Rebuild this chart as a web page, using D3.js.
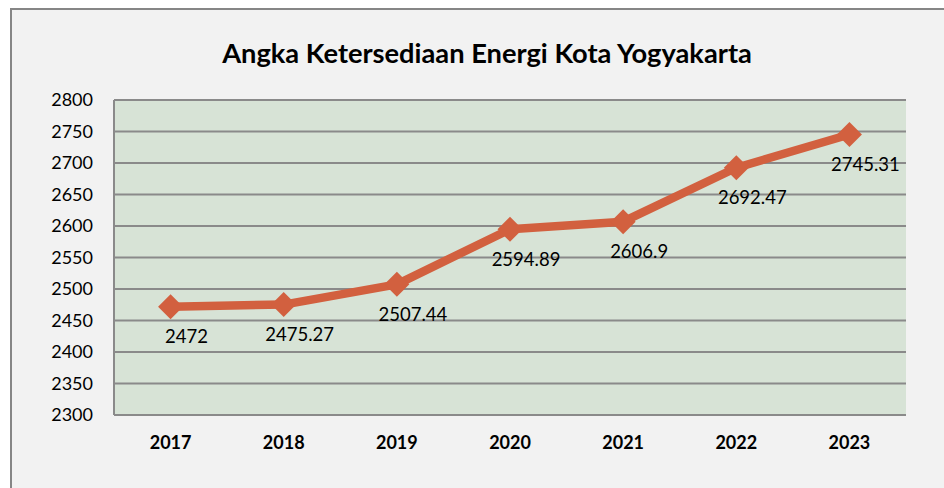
<!DOCTYPE html>
<html>
<head>
<meta charset="utf-8">
<script src="https://cdn.jsdelivr.net/npm/d3@7"></script>
<style>
  html, body { margin: 0; padding: 0; background: #ffffff; }
  svg { display: block; }
  text { font-family: Lato, "Open Sans", sans-serif; }
</style>
</head>
<body>
<svg id="chart" width="944" height="488"></svg>
<script>
const title = "Angka Ketersediaan Energi Kota Yogyakarta";
const years = ["2017", "2018", "2019", "2020", "2021", "2022", "2023"];
const values = [2472, 2475.27, 2507.44, 2594.89, 2606.9, 2692.47, 2745.31];
const valueLabels = ["2472", "2475.27", "2507.44", "2594.89", "2606.9", "2692.47", "2745.31"];
const yTicks = [2300, 2350, 2400, 2450, 2500, 2550, 2600, 2650, 2700, 2750, 2800];

const svg = d3.select("#chart");
const W = 944, H = 488;
const plot = { left: 114, right: 906, top: 100, bottom: 415 };

// outer chart area
svg.append("rect")
  .attr("x", 11).attr("y", 9)
  .attr("width", W + 20).attr("height", H + 20)
  .attr("fill", "#f2f2f2")
  .attr("stroke", "#868686").attr("stroke-width", 2);

// title
const t = svg.append("text")
  .attr("x", 487).attr("y", 63)
  .attr("text-anchor", "middle")
  .attr("font-weight", "bold")
  .attr("font-size", 22)
  .attr("fill", "#000")
  .text(title);
const tw = t.node().getComputedTextLength();
t.attr("font-size", 22 * 530 / tw);

const x = d3.scaleBand().domain(years).range([plot.left, plot.right]).padding(0);
const y = d3.scaleLinear().domain([2300, 2800]).range([plot.bottom, plot.top]);

// plot area background
svg.append("rect")
  .attr("x", plot.left).attr("y", plot.top)
  .attr("width", plot.right - plot.left).attr("height", plot.bottom - plot.top)
  .attr("fill", "#d7e3d6");

// gridlines
svg.append("g").selectAll("line").data(yTicks).join("line")
  .attr("x1", plot.left).attr("x2", plot.right)
  .attr("y1", d => y(d)).attr("y2", d => y(d))
  .attr("stroke", "#8a8a8a").attr("stroke-width", 2);

// left axis line
svg.append("line")
  .attr("x1", plot.left).attr("x2", plot.left)
  .attr("y1", plot.top).attr("y2", plot.bottom)
  .attr("stroke", "#8a8a8a").attr("stroke-width", 2);

// y axis labels
const yAxis = d3.axisLeft(y).tickValues(yTicks).tickSize(0).tickPadding(21).tickFormat(d3.format("d"));
const gy = svg.append("g").attr("transform", `translate(${plot.left},0)`).call(yAxis);
gy.select(".domain").remove();
gy.selectAll("text").attr("font-size", 18).attr("fill", "#000")
  .attr("font-family", "Lato, sans-serif");

// x axis labels
const xAxis = d3.axisBottom(x).tickSize(0).tickPadding(21);
const gx = svg.append("g").attr("transform", `translate(0,${plot.bottom})`).call(xAxis);
gx.select(".domain").remove();
gx.selectAll("text").attr("font-size", 18).attr("font-weight", "bold").attr("fill", "#000")
  .attr("font-family", "Lato, sans-serif");

const cx = d => x(d) + x.bandwidth() / 2;
const data = years.map((yr, i) => ({ yr, v: values[i], label: valueLabels[i] }));

// line
svg.append("path").datum(data)
  .attr("fill", "none")
  .attr("stroke", "#d2603f")
  .attr("stroke-width", 8.5)
  .attr("stroke-linejoin", "round")
  .attr("d", d3.line().x(d => cx(d.yr)).y(d => y(d.v)));

// diamond markers
svg.append("g").selectAll("path").data(data).join("path")
  .attr("transform", d => `translate(${cx(d.yr)},${y(d.v)})`)
  .attr("d", "M0,-12.5L12.5,0L0,12.5L-12.5,0Z")
  .attr("fill", "#d2603f");

// data labels
svg.append("g").selectAll("text").data(data).join("text")
  .attr("x", d => cx(d.yr) + 16)
  .attr("y", d => y(d.v) + 36.5)
  .attr("text-anchor", "middle")
  .attr("font-size", 18.5)
  .attr("fill", "#000")
  .text(d => d.label);
</script>
</body>
</html>
